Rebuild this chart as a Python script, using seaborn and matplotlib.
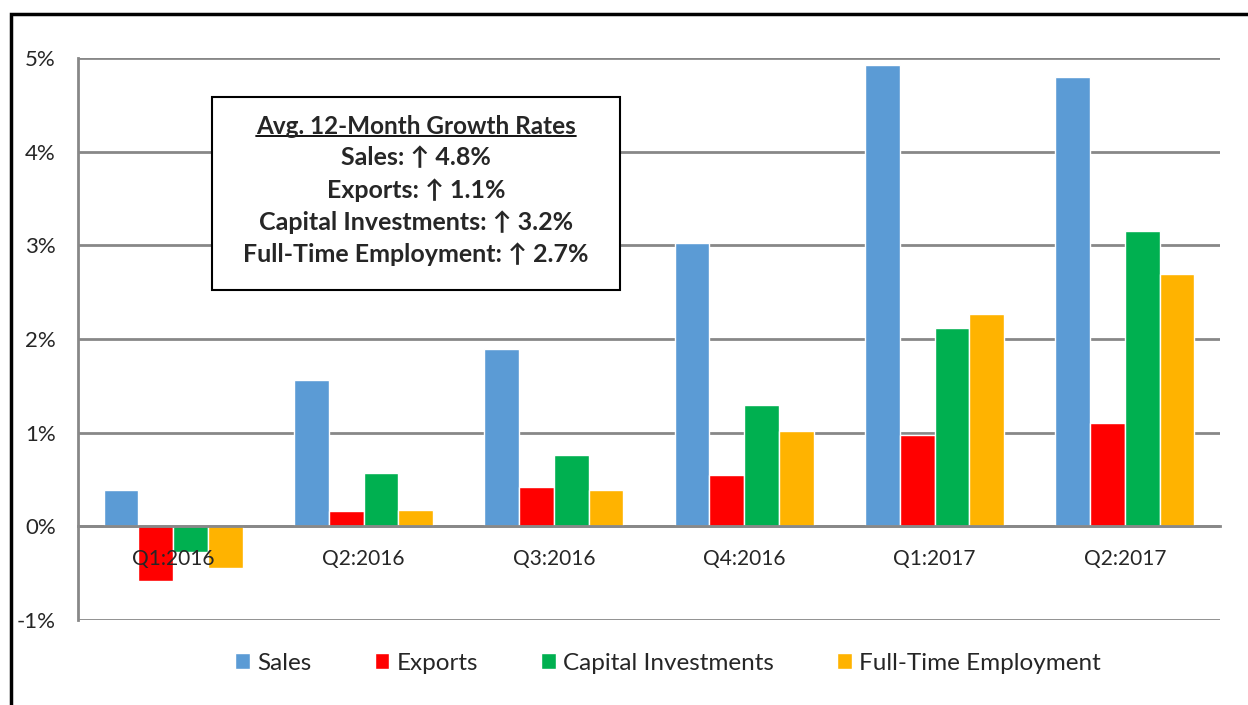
import numpy as np
import pandas as pd
import matplotlib.pyplot as plt
import matplotlib.patches as patches
from matplotlib.lines import Line2D
from matplotlib.ticker import FixedLocator
import seaborn as sns

quarters = ['Q1:2016', 'Q2:2016', 'Q3:2016', 'Q4:2016', 'Q1:2017', 'Q2:2017']
series = ['Sales', 'Exports', 'Capital Investments', 'Full-Time Employment']
sales = [0.39, 1.56, 1.89, 3.03, 4.93, 4.80]
exports = [-0.58, 0.16, 0.42, 0.55, 0.97, 1.10]
capital = [-0.27, 0.57, 0.76, 1.29, 2.12, 3.15]
employment = [-0.44, 0.17, 0.39, 1.02, 2.27, 2.69]
colors = ['#5B9BD5', '#FF0000', '#00B050', '#FFB300']
box_lines = ['Sales: \u2191 4.8%', 'Exports: \u2191 1.1%',
             'Capital Investments: \u2191 3.2%', 'Full-Time Employment: \u2191 2.7%']
box_title = 'Avg. 12-Month Growth Rates'
yticks = [-1, 0, 1, 2, 3, 4, 5]

df = pd.DataFrame({'Quarter': quarters * 4,
                   'Series': np.repeat(series, len(quarters)),
                   'Growth': sales + exports + capital + employment})

sns.set_style('white')
plt.rcParams['font.family'] = ['Lato', 'DejaVu Sans']
grid_col = '#888888'

fig = plt.figure(figsize=(12.48, 7.05), dpi=100)
ax = fig.add_axes([0.0625, 0.1206, 0.9151, 0.7971])

sns.barplot(data=df, x='Quarter', y='Growth', hue='Series', palette=colors,
            width=0.73, saturation=1, ax=ax, legend=False, zorder=3)

ax.set_ylim(-1, 5)
ax.set_xlim(-0.5, len(quarters) - 0.5)
ax.set_yticks(yticks)
ax.set_yticklabels([f'{v}%' for v in yticks])
ax.yaxis.grid(True, color=grid_col, linewidth=2, zorder=0)
ax.set_axisbelow(True)
ax.set_xlabel('')
ax.set_ylabel('')

for s in ['top', 'right']:
    ax.spines[s].set_visible(False)
ax.spines['left'].set_color(grid_col)
ax.spines['left'].set_linewidth(2)
ax.spines['bottom'].set_position(('data', 0))
ax.spines['bottom'].set_color(grid_col)
ax.spines['bottom'].set_linewidth(2)
ax.spines['bottom'].set_zorder(4)

ax.tick_params(axis='y', length=5, width=2, color=grid_col, labelsize=16, pad=11)
ax.tick_params(axis='x', which='major', length=0, labelsize=15, pad=16)
ax.xaxis.set_minor_locator(FixedLocator(np.arange(-0.5, len(quarters), 1)))
ax.tick_params(axis='x', which='minor', length=6, width=2, color=grid_col, direction='out')
# quarter labels sit on top of the negative bars
ax.xaxis.set_zorder(5)

# info box
bx0, by0, bx1, by1 = 212 / 1248, 1 - 290 / 705, 620 / 1248, 1 - 97 / 705
fig.patches.append(patches.Rectangle((bx0, by0), bx1 - bx0, by1 - by0,
                                     transform=fig.transFigure, facecolor='white',
                                     edgecolor='black', linewidth=1.5, zorder=6))
cx = (bx0 + bx1) / 2
t = fig.text(cx, 1 - 126 / 705, box_title, ha='center', va='center',
             fontsize=17.5, fontweight='bold', zorder=7)
ys = [158, 190, 222, 254]
for txt, yy in zip(box_lines, ys):
    fig.text(cx, 1 - yy / 705, txt, ha='center', va='center',
             fontsize=18, fontweight='bold', zorder=7)
fig.canvas.draw()
bb = t.get_window_extent().transformed(fig.transFigure.inverted())
fig.add_artist(Line2D([bb.x0, bb.x1], [bb.y0 + 0.002, bb.y0 + 0.002],
                      transform=fig.transFigure, color='black', linewidth=1.3, zorder=7))

# legend
handles = [patches.Patch(facecolor=c, label=s) for c, s in zip(colors, series)]
fig.legend(handles=handles, loc='center', bbox_to_anchor=(668 / 1248, 1 - 663 / 705),
           ncol=4, frameon=False, fontsize=17.5, handlelength=0.6, handleheight=0.6,
           handletextpad=0.3, columnspacing=2.6)

# outer border
fig.patches.append(patches.Rectangle((11 / 1248, -0.1), 1.2, 1.1 - 14 / 705,
                                     transform=fig.transFigure, fill=False,
                                     edgecolor='black', linewidth=2.5))

fig.savefig('out.png', dpi=100)
